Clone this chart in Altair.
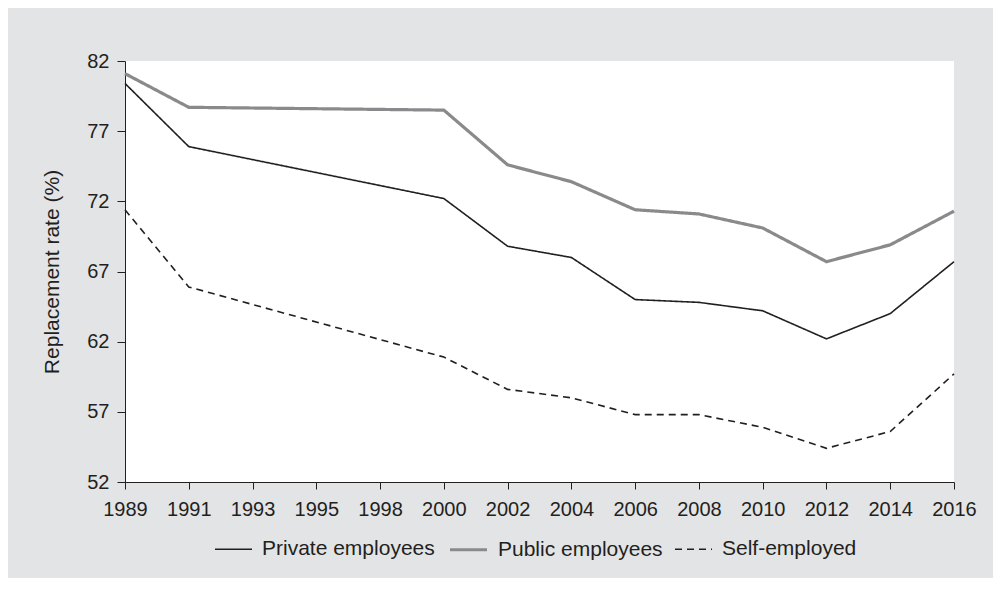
import altair as alt
import pandas as pd

all_years = ["1989", "1991", "1993", "1995", "1998", "2000", "2002", "2004",
             "2006", "2008", "2010", "2012", "2014", "2016"]
data_years = ["1989", "1991", "2000", "2002", "2004", "2006", "2008", "2010",
              "2012", "2014", "2016"]
private = [80.4, 75.9, 72.2, 68.8, 68.0, 65.0, 64.8, 64.2, 62.2, 64.0, 67.7]
public = [81.1, 78.7, 78.5, 74.6, 73.4, 71.4, 71.1, 70.1, 67.7, 68.9, 71.3]
self_emp = [71.4, 65.9, 60.9, 58.6, 58.0, 56.8, 56.8, 55.9, 54.4, 55.6, 59.7]
series = ["Private employees", "Public employees", "Self-employed"]
y_ticks = [52, 57, 62, 67, 72, 77, 82]

rows = []
for name, vals in zip(series, [private, public, self_emp]):
    for yr, v in zip(data_years, vals):
        rows.append({"year": yr, "value": v, "group": name})
df = pd.DataFrame(rows)

FONT = "Liberation Sans"
TXT = "#231f20"

legend = alt.Legend(
    title=None, orient="none", direction="horizontal",
    legendX=89, legendY=468, labelLimit=0,
    symbolType="stroke", symbolSize=1369, labelFontSize=21, labelFont=FONT,
    labelColor=TXT, labelOffset=9, columnPadding=8
)

chart = alt.Chart(df).mark_line(strokeJoin="miter").encode(
    x=alt.X("year:O", scale=alt.Scale(domain=all_years, type="point", padding=0),
            axis=alt.Axis(title=None, labelAngle=0, labelFontSize=20, labelFont=FONT,
                          labelColor=TXT, domainColor=TXT, tickColor=TXT,
                          tickSize=7, labelPadding=10, grid=False)),
    y=alt.Y("value:Q", scale=alt.Scale(domain=[52, 82], nice=False, zero=False),
            axis=alt.Axis(title="Replacement rate (%)", values=y_ticks,
                          labelFontSize=20, labelFont=FONT, labelColor=TXT,
                          titleFontSize=21, titleFont=FONT, titleColor=TXT,
                          titleFontWeight="normal", domainColor=TXT, tickColor=TXT,
                          tickSize=8, labelPadding=8, titlePadding=24, grid=False)),
    color=alt.Color("group:N", scale=alt.Scale(domain=series,
                    range=["#231f20", "#8a8a8c", "#231f20"]), legend=legend),
    strokeDash=alt.StrokeDash("group:N", scale=alt.Scale(domain=series,
                    range=[[1, 0], [1, 0], [7, 5]]), legend=legend),
    strokeWidth=alt.StrokeWidth("group:N", scale=alt.Scale(type="ordinal", domain=series,
                    range=[1.6, 3.2, 1.6]), legend=legend),
).properties(
    width=829, height=421,
    autosize=alt.AutoSizeParams(type="none"),
    padding={"left": 117, "top": 53, "right": 39, "bottom": 96},
    background="#e3e4e6",
).configure_view(fill="white", strokeWidth=0)

chart.save("out.html", embed_options={"renderer": "svg", "actions": False})
